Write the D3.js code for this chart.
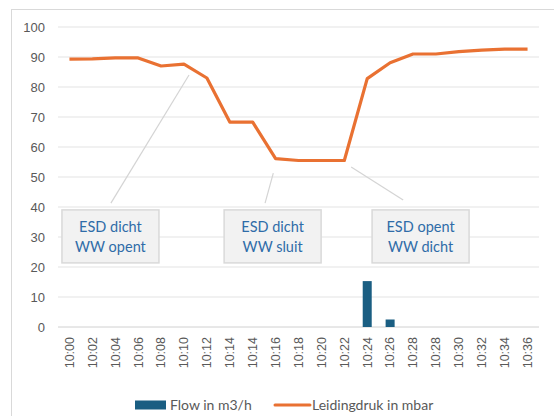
<!DOCTYPE html>
<html>
<head>
    <meta charset="utf-8">
    <title>Leidingdruk en flow</title>
    <style>
        body { margin: 0; background: #fff; }
        .axis text { font: 13px "Liberation Sans", Arial, sans-serif; fill: #595959; }
        .xaxis text { font-size: 12.5px; }
        .note text { font: 14.5px Lato, "Noto Sans", sans-serif; fill: #2f6ca8; }
        .legend text { font: 14px Lato, "Noto Sans", sans-serif; fill: #595959; }
    </style>
</head>
<body>
    <svg width="554" height="416"></svg>
    <script src="https://d3js.org/d3.v7.min.js"></script>
    <script>
    var times = ["10:00", "10:02", "10:04", "10:06", "10:08", "10:10", "10:12", "10:14", "10:14",
                 "10:16", "10:18", "10:20", "10:22", "10:24", "10:26", "10:28", "10:28", "10:30",
                 "10:32", "10:34", "10:36"];
    var flow = [0, 0, 0, 0, 0, 0, 0, 0, 0, 0, 0, 0, 0, 15.3, 2.5, 0, 0, 0, 0, 0, 0];
    var druk = [89.3, 89.4, 89.7, 89.7, 87, 87.6, 83, 68.3, 68.3, 56.1, 55.5, 55.5, 55.5,
                82.8, 88.1, 91, 91, 91.8, 92.3, 92.6, 92.6];
    var yTicks = [0, 10, 20, 30, 40, 50, 60, 70, 80, 90, 100];

    // annotations, positions in category index / data units
    var notes = [
        { lines: ["ESD dicht", "WW opent"], from: [5.22, 84], to: [1.81, 41.3], box: [1.79, 30.2] },
        { lines: ["ESD dicht", "WW sluit"], from: [8.9, 51.3], to: [8.54, 41.3], box: [8.87, 30.2] },
        { lines: ["ESD opent", "WW dicht"], from: [12.3, 53.3], to: [14.57, 42.3], box: [15.33, 30.2] }
    ];

    var svg = d3.select("svg"),
        margin = { left: 58, right: 15, top: 27, bottom: 89 },
        width = 554 - margin.left - margin.right,
        height = 416 - margin.top - margin.bottom;

    // chart frame
    svg.append("rect")
        .attr("x", 11.5).attr("y", 9.5)
        .attr("width", 560).attr("height", 420)
        .attr("fill", "none").attr("stroke", "#d9d9d9");

    var g = svg.append("g").attr("transform", "translate(" + margin.left + "," + margin.top + ")");

    var x = d3.scaleBand().domain(d3.range(times.length)).range([0, width]);
    var y = d3.scaleLinear().domain([0, 100]).range([height, 0]);
    var xc = function(i) { return x.bandwidth() * (i + 0.5); };

    // grid
    g.selectAll(".grid").data(yTicks).enter().append("line")
        .attr("x1", 0).attr("x2", width)
        .attr("y1", function(d) { return y(d); }).attr("y2", function(d) { return y(d); })
        .attr("stroke", function(d) { return d === 0 ? "#d0d0d0" : "#e3e3e3"; })
        .attr("stroke-width", 1);

    var ya = g.append("g").attr("class", "axis")
        .call(d3.axisLeft(y).tickValues(yTicks).tickSize(0).tickPadding(13));
    ya.select(".domain").remove();

    var xa = g.append("g").attr("class", "axis xaxis")
        .attr("transform", "translate(0," + height + ")")
        .call(d3.axisBottom(x).tickFormat(function(i) { return times[i]; }).tickSize(0));
    xa.select(".domain").remove();
    xa.selectAll("text")
        .attr("transform", "rotate(-90)")
        .attr("text-anchor", "end")
        .attr("x", -10).attr("y", 0).attr("dy", "0.35em");

    // bars
    var bw = 9;
    g.selectAll(".bar").data(flow.map(function(d, i) { return { v: d, i: i }; })
            .filter(function(d) { return d.v > 0; }))
        .enter().append("rect").attr("class", "bar")
        .attr("x", function(d) { return xc(d.i) - bw / 2; }).attr("width", bw)
        .attr("y", function(d) { return y(d.v); })
        .attr("height", function(d) { return y(0) - y(d.v); })
        .attr("fill", "#1a5e82");

    // leader lines
    g.selectAll(".lead").data(notes).enter().append("line")
        .attr("x1", function(d) { return xc(d.from[0]); })
        .attr("y1", function(d) { return y(d.from[1]); })
        .attr("x2", function(d) { return xc(d.to[0]); })
        .attr("y2", function(d) { return y(d.to[1]); })
        .attr("stroke", "#d4d4d4").attr("stroke-width", 1.2);

    // line
    g.append("path").datum(druk)
        .attr("fill", "none")
        .attr("stroke", "#e97132")
        .attr("stroke-width", 3.2)
        .attr("stroke-linejoin", "round")
        .attr("d", d3.line().x(function(d, i) { return xc(i); }).y(function(d) { return y(d); }));

    // annotation boxes
    var bwid = 97, bh = 53;
    var ng = g.selectAll(".note").data(notes).enter().append("g").attr("class", "note")
        .attr("transform", function(d) {
            return "translate(" + xc(d.box[0]) + "," + y(d.box[1]) + ")";
        });
    ng.append("rect")
        .attr("x", -bwid / 2).attr("y", -bh / 2)
        .attr("width", bwid).attr("height", bh)
        .attr("fill", "#f2f2f2").attr("stroke", "#d9d9d9").attr("stroke-width", 1.5);
    ng.selectAll("text").data(function(d) { return d.lines; }).enter().append("text")
        .attr("text-anchor", "middle")
        .attr("y", function(d, i) { return i * 20 - 9; })
        .attr("dy", "0.35em")
        .text(function(d) { return d; });

    // legend
    var lg = svg.append("g").attr("class", "legend").attr("transform", "translate(0,405)");
    lg.append("rect").attr("x", 135).attr("y", -4.5).attr("width", 31).attr("height", 9).attr("fill", "#1a5e82");
    lg.append("text").attr("x", 170).attr("dy", "0.35em").text("Flow in m3/h");
    lg.append("line").attr("x1", 275).attr("x2", 310).attr("y1", 0).attr("y2", 0)
        .attr("stroke", "#e97132").attr("stroke-width", 3).attr("stroke-linecap", "round");
    lg.append("text").attr("x", 312).attr("dy", "0.35em").text("Leidingdruk in mbar");
    </script>
</body>
</html>
